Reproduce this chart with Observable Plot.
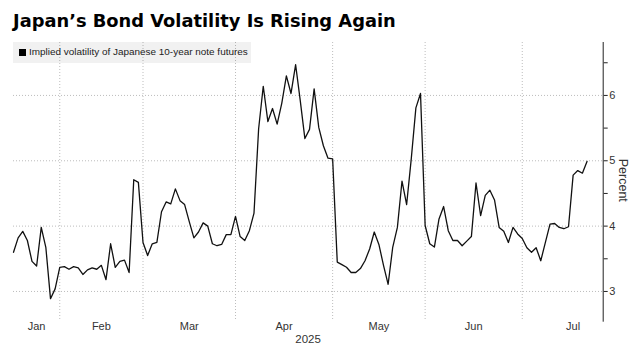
<!DOCTYPE html>
<html><head><meta charset="utf-8">
<script src="https://cdn.jsdelivr.net/npm/d3@7"></script>
<script src="https://cdn.jsdelivr.net/npm/@observablehq/plot@0.6"></script>
<style>
body{margin:0;background:#fff;font-family:"Liberation Sans",Arial,sans-serif;}
#wrap{position:relative;width:631px;height:350px;overflow:hidden;background:#fff}
#title{height:42px;position:relative}
#title span{position:absolute;left:13px;top:10px;font-family:"DejaVu Sans",sans-serif;font-size:20px;font-weight:bold;color:#000;white-space:nowrap}
#legend{position:absolute;left:13px;top:42px;width:238px;height:21px;background:rgba(0,0,0,0.055);z-index:2}
#legend i{position:absolute;left:6px;top:7px;width:7px;height:7px;background:#000}
#legend span{position:absolute;left:16px;top:4px;font-size:10px;color:#222;white-space:nowrap}
</style></head>
<body><div id="wrap">
<div id="title"><span id="tt">Japan’s Bond Volatility Is Rising Again</span></div>
<div id="legend"><i></i><span id="lt">Implied volatility of Japanese 10-year note futures</span></div>
<div id="chart"></div>
</div>
<script>
// Implied volatility (percent), one value per Japanese trading day, mid-Jan to mid-Jul 2025
const vol = [
 3.60,3.82,3.92,3.78,3.46,3.39,3.98,3.67,2.89,3.04,
 3.37,3.38,3.34,3.38,3.36,3.26,3.33,3.36,3.34,3.40,
 3.18,3.73,3.37,3.46,3.48,3.29,4.71,4.67,3.75,3.55,
 3.73,3.75,4.22,4.37,4.34,4.57,4.39,4.33,4.07,3.82,
 3.91,4.05,4.00,3.73,3.70,3.72,3.87,3.87,4.15,3.84,
 3.78,3.93,4.20,5.49,6.14,5.60,5.80,5.56,5.88,6.30,
 6.03,6.47,5.92,5.34,5.48,6.10,5.51,5.23,5.04,5.03,
 3.45,3.41,3.37,3.29,3.29,3.35,3.47,3.65,3.91,3.72,
 3.40,3.11,3.68,3.98,4.69,4.33,5.03,5.81,6.03,4.01,
 3.73,3.68,4.11,4.30,3.93,3.78,3.78,3.70,3.77,3.84,
 4.66,4.16,4.47,4.55,4.40,3.98,3.92,3.75,3.98,3.88,
 3.81,3.67,3.60,3.67,3.47,3.75,4.03,4.04,3.98,3.96,
 3.99,4.78,4.85,4.81,4.99
];
// trading-day index of the first session of each month (Feb..Jul)
const monthStarts = [10, 28, 48, 69, 89, 110];
const monthLabels = ["Jan","Feb","Mar","Apr","May","Jun","Jul"];
const monthLabelPos = [5, 19, 38, 58.5, 79, 99.5, 121];
const yearLabel = ["2025"];
const yearLabelPos = [63.7];
const yTicks = [3, 4, 5, 6];
const yMinorTicks = [3.5, 4.5, 5.5, 6.5];
const xDomain = [0, 127.5];
const yDomain = [2.545, 6.81];

const data = vol.map((v, i) => ({i, v}));

function fit(id, w){
  const el = document.getElementById(id);
  let fs = parseFloat(getComputedStyle(el).fontSize);
  const cw = el.getBoundingClientRect().width;
  el.style.fontSize = (fs * w / cw) + "px";
}
fit("tt", 383);
fit("lt", 219);

const chart = Plot.plot({
  width: 631, height: 308,
  marginTop: 0, marginBottom: 29.3, marginLeft: 13, marginRight: 28.3,
  style: {fontFamily: "Liberation Sans, Arial, sans-serif", background: "transparent"},
  x: {domain: xDomain, axis: null},
  y: {domain: yDomain, axis: null},
  marks: [
    Plot.gridY(yTicks, {stroke: "#bdbdbd", strokeOpacity: 1, strokeDasharray: "1,2"}),
    Plot.gridX(monthStarts, {stroke: "#bdbdbd", strokeOpacity: 1, strokeDasharray: "1,2"}),
    Plot.line(data, {x: "i", y: "v", stroke: "#111", strokeWidth: 1.3}),
    Plot.frame({anchor: "right", stroke: "#222", strokeWidth: 1}),
    Plot.axisY(yTicks, {anchor: "right", tickSize: 4, tickPadding: 2, tickFormat: d => String(d), fontSize: 11, fill: "#333", stroke: "#222", label: null}),
    Plot.axisY(yMinorTicks, {anchor: "right", tickSize: 4, tickFormat: () => "", stroke: "#222", label: null}),
    Plot.text(monthLabels, {x: (d, i) => monthLabelPos[i], frameAnchor: "bottom", dy: 9, fontSize: 11, fill: "#333"}),
    Plot.text(yearLabel, {x: (d, i) => yearLabelPos[i], frameAnchor: "bottom", dy: 22, fontSize: 11.5, fill: "#333"}),
    Plot.text(["Percent"], {frameAnchor: "right", dx: 20, dy: 20, rotate: 90, fontSize: 12.5, fill: "#333"})
  ]
});
document.getElementById("chart").appendChild(chart);
</script>
</body></html>
